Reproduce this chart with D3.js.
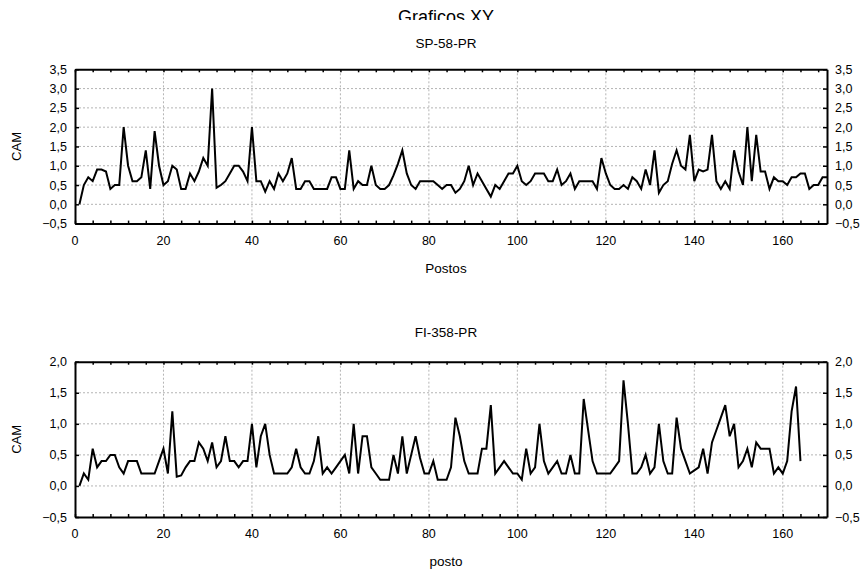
<!DOCTYPE html>
<html>
<head>
<meta charset="utf-8">
<script src="https://cdn.jsdelivr.net/npm/d3@7"></script>
<style>
  body { margin: 0; background: #fff; }
  text { font-family: "Liberation Sans", Arial, sans-serif; fill: #000; }
</style>
</head>
<body>
<svg id="chart" width="863" height="573"></svg>
<script>
// ---- Data ----
const titleMain = "Graficos XY";
const yLabel = "CAM";

const topTitle = "SP-58-PR";
const topXLabel = "Postos";
const topYTicks = [-0.5, 0, 0.5, 1.0, 1.5, 2.0, 2.5, 3.0, 3.5];
const topValues = [
  0.0, 0.5, 0.7, 0.6, 0.9, 0.9, 0.85, 0.4, 0.5, 0.5,
  2.0, 1.0, 0.6, 0.6, 0.7, 1.4, 0.4, 1.9, 1.0, 0.5,
  0.6, 1.0, 0.9, 0.4, 0.4, 0.8, 0.6, 0.85, 1.2, 1.0,
  3.0, 0.43, 0.5, 0.6, 0.8, 1.0, 1.0, 0.85, 0.6, 2.0,
  0.6, 0.6, 0.33, 0.6, 0.4, 0.8, 0.6, 0.8, 1.2, 0.4,
  0.4, 0.6, 0.6, 0.4, 0.4, 0.4, 0.4, 0.7, 0.7, 0.4,
  0.4, 1.4, 0.4, 0.6, 0.5, 0.5, 1.0, 0.5, 0.4, 0.4,
  0.5, 0.75, 1.05, 1.4, 0.8, 0.5, 0.4, 0.6, 0.6, 0.6,
  0.6, 0.5, 0.4, 0.5, 0.5, 0.3, 0.4, 0.6, 1.0, 0.5,
  0.8, 0.6, 0.4, 0.2, 0.5, 0.4, 0.6, 0.8, 0.8, 1.0,
  0.6, 0.5, 0.6, 0.8, 0.8, 0.8, 0.6, 0.6, 0.9, 0.5,
  0.6, 0.8, 0.4, 0.6, 0.6, 0.6, 0.6, 0.4, 1.2, 0.8,
  0.5, 0.4, 0.4, 0.5, 0.4, 0.7, 0.6, 0.4, 0.9, 0.5,
  1.4, 0.3, 0.5, 0.6, 1.05, 1.4, 1.0, 0.9, 1.8, 0.6,
  0.9, 0.85, 0.9, 1.8, 0.6, 0.4, 0.6, 0.4, 1.4, 0.85,
  0.5, 2.0, 0.6, 1.8, 0.85, 0.85, 0.4, 0.7, 0.6, 0.6,
  0.5, 0.7, 0.7, 0.8, 0.8, 0.4, 0.5, 0.5, 0.7, 0.7
];

const botTitle = "FI-358-PR";
const botXLabel = "posto";
const botYTicks = [-0.5, 0, 0.5, 1.0, 1.5, 2.0];
const botValues = [
  0.0, 0.2, 0.1, 0.6, 0.3, 0.4, 0.4, 0.5, 0.5, 0.3,
  0.2, 0.4, 0.4, 0.4, 0.2, 0.2, 0.2, 0.2, 0.4, 0.6,
  0.2, 1.2, 0.15, 0.17, 0.3, 0.4, 0.4, 0.7, 0.6, 0.4,
  0.7, 0.3, 0.4, 0.8, 0.4, 0.4, 0.3, 0.4, 0.4, 1.0,
  0.3, 0.8, 1.0, 0.5, 0.2, 0.2, 0.2, 0.2, 0.3, 0.6,
  0.3, 0.2, 0.2, 0.4, 0.8, 0.2, 0.3, 0.2, 0.3, 0.4,
  0.5, 0.2, 1.0, 0.2, 0.8, 0.8, 0.3, 0.2, 0.1, 0.1,
  0.1, 0.5, 0.2, 0.8, 0.2, 0.5, 0.8, 0.45, 0.2, 0.2,
  0.4, 0.1, 0.1, 0.1, 0.3, 1.1, 0.8, 0.4, 0.2, 0.2,
  0.2, 0.6, 0.6, 1.3, 0.2, 0.3, 0.4, 0.3, 0.2, 0.2,
  0.1, 0.6, 0.2, 0.3, 1.0, 0.4, 0.2, 0.3, 0.4, 0.2,
  0.2, 0.5, 0.2, 0.2, 1.4, 0.9, 0.4, 0.2, 0.2, 0.2,
  0.2, 0.3, 0.4, 1.7, 1.0, 0.2, 0.2, 0.3, 0.5, 0.2,
  0.3, 1.0, 0.4, 0.2, 0.2, 1.1, 0.6, 0.4, 0.2, 0.25,
  0.3, 0.6, 0.2, 0.7, 0.9, 1.1, 1.3, 0.8, 1.0, 0.3,
  0.4, 0.6, 0.3, 0.7, 0.6, 0.6, 0.6, 0.2, 0.3, 0.2,
  0.4, 1.2, 1.6, 0.4
];

const xDomain = [0, 170];
const xMajorTicks = [0, 20, 40, 60, 80, 100, 120, 140, 160];
const xMinorStep = 4;

// ---- Drawing ----
const svg = d3.select("#chart");
const fmt = v => d3.format(".1f")(v).replace(".", ",");

svg.append("defs").append("clipPath").attr("id", "titleClip")
  .append("rect").attr("x", 0).attr("y", 0).attr("width", 863).attr("height", 20);

svg.append("text")
  .attr("x", 446).attr("y", 23)
  .attr("text-anchor", "middle")
  .attr("font-size", 18)
  .attr("clip-path", "url(#titleClip)")
  .text(titleMain);

function panel(cfg) {
  const x = d3.scaleLinear().domain(xDomain).range([75, 827]);
  const y = d3.scaleLinear().domain(cfg.yDomain).range([cfg.bottom, cfg.top]);
  const g = svg.append("g");

  // gridlines
  g.selectAll(".gx").data(xMajorTicks.filter(t => t > xDomain[0] && t < xDomain[1]))
    .enter().append("line")
    .attr("x1", d => x(d)).attr("x2", d => x(d))
    .attr("y1", cfg.top).attr("y2", cfg.bottom)
    .attr("stroke", "#b4b4b4").attr("stroke-width", 1)
    .attr("stroke-dasharray", "2,2");
  g.selectAll(".gy").data(cfg.yTicks.filter(t => t > cfg.yDomain[0] && t < cfg.yDomain[1]))
    .enter().append("line")
    .attr("x1", 75).attr("x2", 827)
    .attr("y1", d => y(d)).attr("y2", d => y(d))
    .attr("stroke", "#b4b4b4").attr("stroke-width", 1)
    .attr("stroke-dasharray", "2,2");

  // series line
  const line = d3.line().x((d, i) => x(i + 1)).y(d => y(d));
  g.append("path").datum(cfg.values)
    .attr("d", line)
    .attr("fill", "none").attr("stroke", "#000")
    .attr("stroke-width", 2).attr("stroke-linejoin", "miter");

  // axes (frame) with inward ticks
  const minor = d3.range(xDomain[0], xDomain[1] + 0.001, xMinorStep);
  const axB = d3.axisBottom(x).tickValues(minor).tickSizeInner(-3).tickSizeOuter(0).tickFormat("");
  const axT = d3.axisTop(x).tickValues(minor).tickSizeInner(-3).tickSizeOuter(0).tickFormat("");
  const axL = d3.axisLeft(y).tickValues(cfg.yTicks).tickSizeInner(-4).tickSizeOuter(0).tickFormat("");
  const axR = d3.axisRight(y).tickValues(cfg.yTicks).tickSizeInner(-4).tickSizeOuter(0).tickFormat("");

  const styleAxis = sel => {
    sel.select(".domain").attr("stroke", "#000").attr("stroke-width", 2);
    sel.selectAll(".tick line").attr("stroke", "#000").attr("stroke-width", 1.5);
  };
  g.append("g").attr("transform", `translate(0,${cfg.bottom})`).call(axB).call(styleAxis);
  g.append("g").attr("transform", `translate(0,${cfg.top})`).call(axT).call(styleAxis);
  g.append("g").attr("transform", `translate(75,0)`).call(axL).call(styleAxis);
  g.append("g").attr("transform", `translate(827,0)`).call(axR).call(styleAxis);

  // tick labels
  g.selectAll(".xl").data(xMajorTicks).enter().append("text")
    .attr("x", d => x(d)).attr("y", cfg.bottom + 21)
    .attr("text-anchor", "middle").attr("font-size", 12.5)
    .text(d => d);
  g.selectAll(".yl").data(cfg.yTicks).enter().append("text")
    .attr("x", 67).attr("y", d => y(d) + 4.5)
    .attr("text-anchor", "end").attr("font-size", 12.5)
    .text(fmt);
  g.selectAll(".yr").data(cfg.yTicks).enter().append("text")
    .attr("x", 835).attr("y", d => y(d) + 4.5)
    .attr("text-anchor", "start").attr("font-size", 12.5)
    .text(fmt);

  // titles
  svg.append("text").attr("x", 446).attr("y", cfg.titleY)
    .attr("text-anchor", "middle").attr("font-size", 13.5).text(cfg.title);
  svg.append("text").attr("x", 446).attr("y", cfg.bottom + 49)
    .attr("text-anchor", "middle").attr("font-size", 13.5).text(cfg.xLabel);
  svg.append("text")
    .attr("transform", `translate(21,${(cfg.top + cfg.bottom) / 2}) rotate(-90)`)
    .attr("text-anchor", "middle").attr("font-size", 13).text(yLabel);
}

panel({ values: topValues, yDomain: [-0.5, 3.5], yTicks: topYTicks,
        top: 69.3, bottom: 223.6, title: topTitle, titleY: 48, xLabel: topXLabel });
panel({ values: botValues, yDomain: [-0.5, 2.0], yTicks: botYTicks,
        top: 361.7, bottom: 517, title: botTitle, titleY: 337, xLabel: botXLabel });
</script>
</body>
</html>
